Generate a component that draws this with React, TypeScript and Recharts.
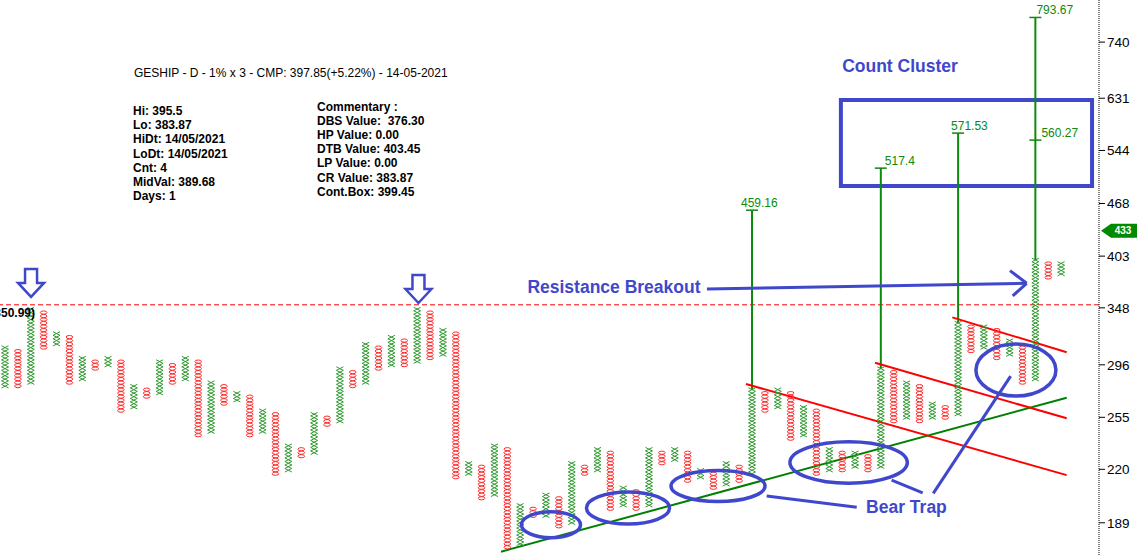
import React from "react"
import {
  ComposedChart,
  Scatter,
  XAxis,
  YAxis,
  ReferenceLine,
  ReferenceDot,
  ReferenceArea,
} from "recharts"

// point & figure columns, 1% box (low / high box price)
const colTypes = "XOXOXOXOXOXOXOXOXOXOXOXOXOXOXOXOXOXOXOXOXOXOXOXOXOXOXOXOXOXOXOXOXOXOXOXOXOXOXOXOXOX"
const colLow = [
  278.61, 278.61, 281.4, 310.84, 313.95, 281.4, 284.21, 292.83, 295.75, 259.87,
  262.47, 270.42, 273.12, 281.4, 284.21, 242.38, 244.81, 265.09, 267.74, 242.38,
  244.81, 217.26, 219.43, 228.34, 230.62, 249.73, 252.23, 278.61, 281.4, 292.83,
  295.75, 295.75, 298.71, 301.7, 304.72, 215.1, 217.26, 202.64, 204.66, 176.29,
  178.05, 192.8, 192.8, 187.13, 189.0, 217.26, 219.43, 196.68, 198.64, 196.68,
  198.64, 223.84, 226.08, 212.97, 215.1, 208.78, 210.87, 212.97, 217.26, 259.87,
  262.47, 239.98, 242.38, 217.26, 219.43, 219.43, 221.62, 219.43, 221.62, 252.23,
  254.75, 252.23, 254.75, 254.75, 257.3, 307.76, 310.84, 301.7, 304.72, 281.4,
  284.21, 379.29, 383.08,
]
const colHigh = [
  310.84, 307.76, 346.8, 343.36, 323.46, 320.26, 301.7, 298.71, 301.7, 298.71,
  278.61, 275.86, 298.71, 295.75, 301.7, 298.71, 281.4, 278.61, 273.12, 270.42,
  259.87, 257.3, 235.26, 232.93, 257.3, 254.75, 292.83, 289.93, 313.95, 310.84,
  320.26, 317.09, 346.8, 343.36, 326.7, 323.46, 223.84, 221.62, 235.26, 232.93,
  198.64, 196.68, 204.66, 202.64, 223.84, 221.62, 232.93, 230.62, 208.78, 206.71,
  232.93, 230.62, 232.93, 230.62, 219.43, 217.26, 223.84, 221.62, 275.86, 273.12,
  275.86, 273.12, 262.47, 259.87, 232.93, 230.62, 230.62, 228.34, 292.83, 289.93,
  281.4, 278.61, 265.09, 262.47, 333.26, 329.96, 329.96, 326.7, 317.09, 310.84,
  398.64, 394.69, 394.69,
]

const yTicks = [189, 220, 255, 296, 348, 403, 468, 544, 631, 740]
const resistance = 350.99
const lastPrice = 433

// vertical count targets
const targetCols = [58, 68, 74, 80]
const targetFrom = [275.86, 292.83, 333.26, 398.64]
const targetTo = [459.16, 517.4, 571.53, 793.67]
const targetDx = [-11, 4, -7, 1]
const extraTarget = { col: 80, value: 560.27, dx: 6 }

const BOX = 0.01
const xBoxes: { x: number; y: number }[] = []
const oBoxes: { x: number; y: number }[] = []
colLow.forEach((low, i) => {
  const n = Math.round(Math.log(colHigh[i] / low) / Math.log(1 + BOX))
  for (let j = 0; j <= n; j++) {
    const pt = { x: i, y: low * Math.pow(1 + BOX, j) }
    if (colTypes[i] === "X") xBoxes.push(pt)
    else oBoxes.push(pt)
  }
})

// hand drawn annotations, in chart units (column, price)
const trendUp = [{ x: 38.51, y: 174.1 }, { x: 82.43, y: 269.6 }]
const channels = [
  [{ x: 57.53, y: 280.3 }, { x: 82.43, y: 216.4 }],
  [{ x: 67.55, y: 297.8 }, { x: 82.43, y: 254.3 }],
  [{ x: 73.55, y: 338.7 }, { x: 82.43, y: 306.7 }],
]
const ellipses = [
  { x: 42.39, y: 188.0, rx: 29.5, ry: 13 },
  { x: 48.37, y: 197.1, rx: 41.5, ry: 16 },
  { x: 55.36, y: 209.8, rx: 47, ry: 15.5 },
  { x: 65.5, y: 224.3, rx: 58.7, ry: 20.8 },
  { x: 78.49, y: 291.6, rx: 40, ry: 26 },
]
const pointers = [
  [{ x: 59.14, y: 203.9 }, { x: 66.13, y: 197.5 }],
  [{ x: 68.84, y: 213.4 }, { x: 71.25, y: 205.8 }],
  [{ x: 72.07, y: 205.5 }, { x: 78.08, y: 286.7 }],
  [{ x: 54.5, y: 367.1 }, { x: 79.32, y: 373.1 }],
  [{ x: 78.03, y: 386.7 }, { x: 79.32, y: 373.1 }],
  [{ x: 78.24, y: 359.9 }, { x: 79.32, y: 373.1 }],
]
const downArrows = [{ x: 2.02, y: 358.9 }, { x: 32.1, y: 352.8 }]
const notes = [
  { x: 69.49, y: 691.7, text: "Count Cluster" },
  { x: 47.28, y: 369.2, text: "Resistance Breakout" },
  { x: 69.99, y: 197.6, text: "Bear Trap" },
]

const BLUE = "#3f48cc"
const GREEN = "#0b8a0b"
const FONT = "'Liberation Sans', Arial, sans-serif"

const XMark = (p: any) => (
  <path
    d={`M${p.cx - 3.5},${p.cy - 1.8}L${p.cx + 3.5},${p.cy + 1.8}M${p.cx - 3.5},${p.cy + 1.8}L${p.cx + 3.5},${p.cy - 1.8}`}
    stroke="#2f9a2f"
    strokeWidth={1}
    fill="none"
  />
)
const OMark = (p: any) => (
  <ellipse cx={p.cx} cy={p.cy} rx={3.3} ry={1.6} stroke="#ff2a2a" strokeWidth={1} fill="none" />
)

const leftInfo = ["Hi: 395.5", "Lo: 383.87", "HiDt: 14/05/2021", "LoDt: 14/05/2021", "Cnt: 4", "MidVal: 389.68", "Days: 1"]
const rightInfo = ["Commentary :", "DBS Value:  376.30", "HP Value: 0.00", "DTB Value: 403.45", "LP Value: 0.00", "CR Value: 383.87", "Cont.Box: 399.45"]

export default function App() {
  return (
    <div style={{ position: "absolute", left: 0, top: 0, width: 1148, height: 556, background: "#fff", fontFamily: FONT }}>
      <ComposedChart width={1148} height={556} margin={{ top: 0, right: 0, bottom: 0, left: 0 }}>
        <XAxis type="number" dataKey="x" domain={[-0.39, 84.94]} hide allowDataOverflow />
        <YAxis
          type="number"
          dataKey="y"
          scale="log"
          domain={[172, 834]}
          allowDataOverflow
          orientation="right"
          width={49}
          ticks={yTicks}
          tickSize={6}
          tickMargin={2}
          axisLine={{ stroke: "#000", strokeDasharray: "1 1" }}
          tickLine={{ stroke: "#000" }}
          tick={{ fill: "#000", fontSize: 13.5, fontFamily: FONT }}
        />
        <ReferenceLine y={resistance} stroke="#ff0000" strokeDasharray="5 3" />
        <Scatter data={xBoxes} shape={XMark} isAnimationActive={false} />
        <Scatter data={oBoxes} shape={OMark} isAnimationActive={false} />

        <ReferenceDot
          x={-0.39}
          y={resistance}
          shape={(p: any) => (
            <text x={p.cx + 35} y={p.cy + 12} textAnchor="end" fontSize={12} fontWeight="bold" fontFamily={FONT} fill="#000">
              (350.99)
            </text>
          )}
        />

        {targetCols.map((c, i) => (
          <ReferenceLine key={"t" + i} segment={[{ x: c, y: targetFrom[i] }, { x: c, y: targetTo[i] }]} stroke={GREEN} strokeWidth={2} />
        ))}
        {targetCols.map((c, i) => (
          <ReferenceDot
            key={"tl" + i}
            x={c}
            y={targetTo[i]}
            shape={(p: any) => (
              <g>
                <line x1={p.cx - 6} x2={p.cx + 6} y1={p.cy} y2={p.cy} stroke={GREEN} strokeWidth={1.5} />
                <text x={p.cx + targetDx[i]} y={p.cy - 3} fontSize={12} fontFamily={FONT} fill={GREEN}>
                  {String(targetTo[i])}
                </text>
              </g>
            )}
          />
        ))}
        <ReferenceDot
          x={extraTarget.col}
          y={extraTarget.value}
          shape={(p: any) => (
            <g>
              <line x1={p.cx - 6} x2={p.cx + 6} y1={p.cy} y2={p.cy} stroke={GREEN} strokeWidth={1.5} />
              <text x={p.cx + extraTarget.dx} y={p.cy - 3} fontSize={12} fontFamily={FONT} fill={GREEN}>
                {String(extraTarget.value)}
              </text>
            </g>
          )}
        />

        <ReferenceLine segment={trendUp} stroke="#008000" strokeWidth={2} />
        {channels.map((s, i) => (
          <ReferenceLine key={"c" + i} segment={s} stroke="#ff0000" strokeWidth={2} />
        ))}
        {pointers.map((s, i) => (
          <ReferenceLine key={"p" + i} segment={s} stroke={BLUE} strokeWidth={3} />
        ))}
        {ellipses.map((e, i) => (
          <ReferenceDot
            key={"e" + i}
            x={e.x}
            y={e.y}
            shape={(p: any) => <ellipse cx={p.cx} cy={p.cy} rx={e.rx} ry={e.ry} fill="none" stroke={BLUE} strokeWidth={3.5} />}
          />
        ))}
        {downArrows.map((a, i) => (
          <ReferenceDot
            key={"a" + i}
            x={a.x}
            y={a.y}
            shape={(p: any) => (
              <path
                d={`M${p.cx},${p.cy}L${p.cx - 13},${p.cy - 14}L${p.cx - 6},${p.cy - 14}L${p.cx - 6},${p.cy - 28}L${p.cx + 6},${p.cy - 28}L${p.cx + 6},${p.cy - 14}L${p.cx + 13},${p.cy - 14}Z`}
                fill="#fff"
                stroke={BLUE}
                strokeWidth={2.5}
              />
            )}
          />
        ))}
        <ReferenceArea x1={64.9} x2={84.4} y1={491.9} y2={628.0} fill="none" stroke={BLUE} strokeWidth={4} />
        {notes.map((n, i) => (
          <ReferenceDot
            key={"n" + i}
            x={n.x}
            y={n.y}
            shape={(p: any) => (
              <text x={p.cx} y={p.cy} textAnchor="middle" dominantBaseline="central" fontSize={17.5} fontWeight="bold" fontFamily={FONT} fill={BLUE}>
                {n.text}
              </text>
            )}
          />
        ))}
        <ReferenceDot
          x={84.94}
          y={lastPrice}
          shape={(p: any) => (
            <g>
              <path d={`M${p.cx + 2},${p.cy}L${p.cx + 12},${p.cy - 7}L${p.cx + 38},${p.cy - 7}L${p.cx + 38},${p.cy + 7}L${p.cx + 12},${p.cy + 7}Z`} fill="#008a00" />
              <text x={p.cx + 24} y={p.cy} textAnchor="middle" dominantBaseline="central" fontSize={10} fontWeight="bold" fontFamily={FONT} fill="#fff">
                {String(lastPrice)}
              </text>
            </g>
          )}
        />
      </ComposedChart>

      <div style={{ position: "absolute", left: 134, top: 66, fontSize: 12, lineHeight: "14px", whiteSpace: "pre", color: "#000" }}>
        GESHIP - D - 1% x 3 - CMP: 397.85(+5.22%) - 14-05-2021
      </div>
      <div style={{ position: "absolute", left: 133, top: 104, fontSize: 12, fontWeight: "bold", lineHeight: "14.2px", whiteSpace: "pre", color: "#000" }}>
        {leftInfo.map((t) => (
          <div key={t}>{t}</div>
        ))}
      </div>
      <div style={{ position: "absolute", left: 317, top: 99.5, fontSize: 12, fontWeight: "bold", lineHeight: "14.2px", whiteSpace: "pre", color: "#000" }}>
        {rightInfo.map((t) => (
          <div key={t}>{t}</div>
        ))}
      </div>
    </div>
  )
}
